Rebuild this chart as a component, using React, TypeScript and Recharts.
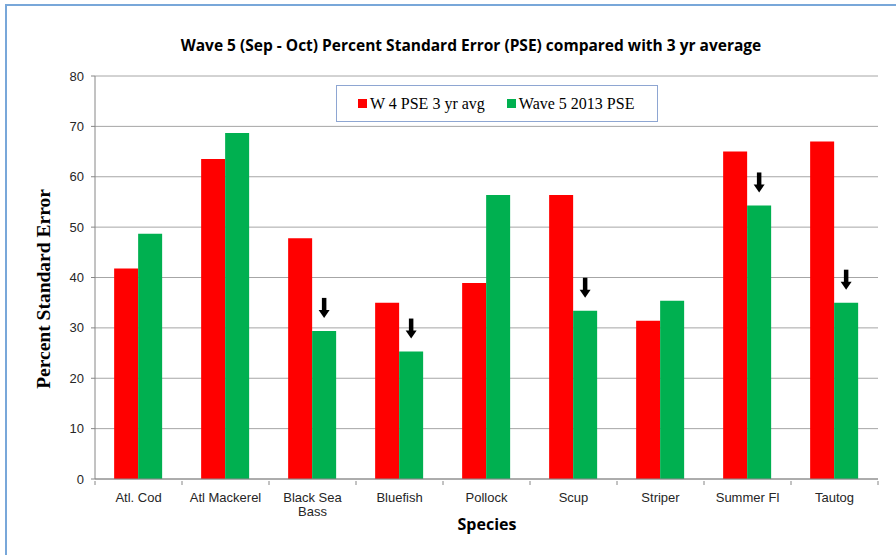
import { Bar, BarChart, CartesianGrid, LabelList, Legend, XAxis, YAxis } from "recharts";

const species = [
  "Atl. Cod",
  "Atl Mackerel",
  "Black Sea Bass",
  "Bluefish",
  "Pollock",
  "Scup",
  "Striper",
  "Summer Fl",
  "Tautog",
];
const avg3yr = [41.8, 63.5, 47.8, 35.0, 38.9, 56.4, 31.4, 65.0, 67.0];
const wave5 = [48.7, 68.7, 29.4, 25.3, 56.4, 33.4, 35.4, 54.3, 35.0];
// categories where wave 5 fell below the 3 yr average get a down arrow
const dropped = [false, false, true, true, false, true, false, true, true];
const yTicks = [0, 10, 20, 30, 40, 50, 60, 70, 80];

const data = species.map((name, i) => ({
  name,
  avg: avg3yr[i],
  wave: wave5[i],
  arrow: dropped[i] ? 1 : 0,
}));

const axisGray = "#868686";
const tickFont = "'Liberation Sans', Arial, sans-serif";
const serif = "'Liberation Serif', 'Times New Roman', serif";
const titleFont = "'Open Sans', 'Noto Sans', sans-serif";

function SpeciesTick(props: any) {
  const { x, y, payload, index, visibleTicksCount } = props;
  const half = payload.offset ?? 0;
  const words = String(payload.value).split(" ");
  const lines =
    words.length > 2 ? [words.slice(0, 2).join(" "), words.slice(2).join(" ")] : [payload.value];
  const axisY = y - 6;
  return (
    <g>
      <line x1={x - half} x2={x - half} y1={axisY} y2={axisY + 4} stroke={axisGray} />
      {index === visibleTicksCount - 1 && (
        <line x1={x + half} x2={x + half} y1={axisY} y2={axisY + 4} stroke={axisGray} />
      )}
      {lines.map((line: string, i: number) => (
        <text
          key={i}
          x={x}
          y={axisY + 21 + i * 14}
          textAnchor="middle"
          fontFamily={tickFont}
          fontSize={13}
          fill="#262626"
        >
          {line}
        </text>
      ))}
    </g>
  );
}

function DownArrow(props: any) {
  const { x, y, width, value } = props;
  if (!value) return null;
  const cx = x + width / 2;
  const tip = y - 13;
  return (
    <g>
      <rect x={cx - 2.25} y={tip - 20} width={4.5} height={13} fill="#000" />
      <polygon points={`${cx - 5.5},${tip - 8} ${cx + 5.5},${tip - 8} ${cx},${tip}`} fill="#000" />
    </g>
  );
}

function LegendBox(props: any) {
  const items = props.payload ?? [];
  return (
    <div
      style={{
        boxSizing: "border-box",
        width: 322,
        height: 37,
        border: "1px solid #8ea6d2",
        background: "#fff",
        display: "flex",
        alignItems: "center",
        paddingLeft: 21,
        fontFamily: serif,
        fontSize: 16,
        color: "#000",
      }}
    >
      {items.map((it: any, i: number) => (
        <span
          key={i}
          style={{ display: "flex", alignItems: "center", marginRight: i === 0 ? 22 : 0 }}
        >
          <span
            style={{ width: 9, height: 9, background: it.color, marginRight: 3, display: "inline-block" }}
          />
          {it.value}
        </span>
      ))}
    </div>
  );
}

export default function App() {
  return (
    <div
      style={{
        position: "absolute",
        left: 0,
        top: 0,
        width: 896,
        height: 555,
        background: "#fff",
        overflow: "hidden",
      }}
    >
      <BarChart
        width={896}
        height={555}
        data={data}
        margin={{ top: 76, right: 18, bottom: 0, left: 0 }}
        barCategoryGap="22%"
        barGap={0}
      >
        <CartesianGrid stroke="#a6a6a6" vertical={false} />
        <XAxis
          dataKey="name"
          interval={0}
          height={76}
          axisLine={{ stroke: axisGray }}
          tickLine={false}
          tick={<SpeciesTick />}
        />
        <YAxis
          width={95}
          domain={[0, 80]}
          ticks={yTicks}
          interval={0}
          axisLine={{ stroke: axisGray }}
          tickLine={{ stroke: axisGray }}
          tickSize={4}
          tickMargin={7}
          tick={{ fontFamily: tickFont, fontSize: 13, fill: "#262626" }}
        />
        <Legend
          layout="horizontal"
          verticalAlign="middle"
          align="center"
          content={<LegendBox />}
          wrapperStyle={{ left: 336, top: 85, width: 322, height: 37 }}
        />
        <Bar dataKey="avg" name="W 4 PSE 3 yr avg" fill="#ff0000" isAnimationActive={false} />
        <Bar dataKey="wave" name="Wave 5 2013 PSE" fill="#00b050" isAnimationActive={false}>
          <LabelList dataKey="arrow" content={<DownArrow />} />
        </Bar>
      </BarChart>
      <svg
        width={896}
        height={555}
        style={{ position: "absolute", left: 0, top: 0, pointerEvents: "none" }}
      >
        <rect x={6} y={5} width={960} height={600} fill="none" stroke="#78a7d9" strokeWidth={2} />
        <text
          x={471}
          y={51}
          textAnchor="middle"
          fontFamily={titleFont}
          fontWeight="bold"
          fontSize={15.5}
          fill="#000"
        >
          Wave 5 (Sep - Oct) Percent Standard Error (PSE) compared with 3 yr average
        </text>
        <text
          transform="translate(50,289) rotate(-90)"
          textAnchor="middle"
          fontFamily={serif}
          fontWeight="bold"
          fontSize={19.5}
          fill="#000"
        >
          Percent Standard Error
        </text>
        <text
          x={487}
          y={530}
          textAnchor="middle"
          fontFamily={titleFont}
          fontWeight="bold"
          fontSize={16}
          fill="#000"
        >
          Species
        </text>
      </svg>
    </div>
  );
}
